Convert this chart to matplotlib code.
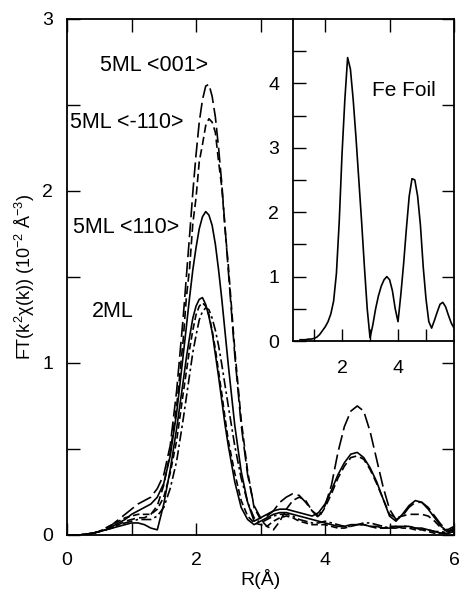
"""
FT magnitude of k^2-weighted EXAFS for Fe films, with Fe foil reference inset.
"""
import matplotlib
matplotlib.use('Agg')
import matplotlib.pyplot as plt

plt.rcParams['font.family'] = ['Liberation Sans', 'DejaVu Sans']
plt.rcParams['mathtext.fontset'] = 'custom'
plt.rcParams['mathtext.rm'] = 'Liberation Sans'
plt.rcParams['mathtext.it'] = 'Liberation Sans'

# sample positions R (Angstrom); finer around the first-shell peak
R = [0.0, 0.1, 0.2, 0.3, 0.4, 0.5, 0.6, 0.7, 0.8, 0.9,
     1.0, 1.1, 1.2, 1.3, 1.4, 1.5, 1.6, 1.7,
     1.8, 1.85, 1.9, 1.95, 2.0, 2.05, 2.1, 2.15, 2.2, 2.25,
     2.3, 2.35, 2.4, 2.45, 2.5, 2.6, 2.7, 2.8, 2.9,
     3.0, 3.1, 3.2, 3.3, 3.4, 3.5, 3.6, 3.7, 3.8, 3.9,
     4.0, 4.1, 4.2, 4.3, 4.4, 4.5, 4.6, 4.7, 4.8, 4.9,
     5.0, 5.1, 5.2, 5.3, 5.4, 5.5, 5.6, 5.7, 5.8, 5.9,
     6.0]

ml5_001 = [0, 0, 0, 0.005, 0.01, 0.02, 0.04, 0.06, 0.09, 0.12,
           0.15, 0.18, 0.20, 0.22, 0.27, 0.35, 0.52, 0.84,
           1.26, 1.50, 1.74, 1.99, 2.21, 2.40, 2.53, 2.61, 2.62, 2.55,
           2.43, 2.25, 2.04, 1.79, 1.54, 1.05, 0.64, 0.35, 0.17,
           0.10, 0.11, 0.14, 0.19, 0.22, 0.24, 0.23, 0.19, 0.14, 0.11,
           0.17, 0.29, 0.48, 0.63, 0.72, 0.75, 0.72, 0.60, 0.44, 0.28,
           0.15, 0.09, 0.11, 0.16, 0.19, 0.19, 0.16, 0.11, 0.06, 0.03,
           0.05]

ml5_m110 = [0, 0, 0, 0.005, 0.01, 0.02, 0.03, 0.05, 0.06, 0.08,
            0.09, 0.10, 0.10, 0.12, 0.17, 0.29, 0.48, 0.75,
            1.13, 1.38, 1.55, 1.81, 1.96, 2.17, 2.27, 2.38, 2.42, 2.40,
            2.34, 2.17, 2.02, 1.78, 1.57, 1.08, 0.67, 0.37, 0.16,
            0.09, 0.05, 0.03, 0.08, 0.15, 0.20, 0.22, 0.20, 0.14, 0.10,
            0.16, 0.24, 0.33, 0.40, 0.45, 0.46, 0.44, 0.38, 0.30, 0.21,
            0.12, 0.10, 0.11, 0.12, 0.12, 0.12, 0.11, 0.08, 0.04, 0.02,
            0.03]

ml5_110 = [0, 0, 0, 0.005, 0.01, 0.02, 0.03, 0.05, 0.07, 0.09,
           0.12, 0.14, 0.16, 0.18, 0.22, 0.30, 0.46, 0.71,
           1.04, 1.21, 1.38, 1.54, 1.67, 1.78, 1.85, 1.88, 1.86, 1.80,
           1.69, 1.54, 1.37, 1.18, 0.99, 0.64, 0.37, 0.19, 0.08,
           0.10, 0.12, 0.14, 0.15, 0.15, 0.14, 0.13, 0.12, 0.11, 0.13,
           0.18, 0.26, 0.35, 0.42, 0.47, 0.48, 0.45, 0.39, 0.31, 0.21,
           0.11, 0.08, 0.12, 0.17, 0.20, 0.19, 0.15, 0.10, 0.05, 0.02,
           0.04]

ml2_a = [0, 0, 0, 0.005, 0.01, 0.02, 0.03, 0.04, 0.05, 0.06,
         0.07, 0.07, 0.06, 0.04, 0.03, 0.18, 0.38, 0.62,
         0.89, 1.03, 1.15, 1.26, 1.33, 1.37, 1.38, 1.34, 1.27, 1.18,
         1.05, 0.92, 0.78, 0.64, 0.52, 0.31, 0.16, 0.09, 0.06,
         0.08, 0.10, 0.12, 0.13, 0.13, 0.12, 0.11, 0.10, 0.09, 0.08,
         0.07, 0.06, 0.05, 0.05, 0.06, 0.06, 0.06, 0.05, 0.05, 0.04,
         0.04, 0.05, 0.05, 0.05, 0.04, 0.04, 0.03, 0.02, 0.01, 0.01,
         0.02]

ml2_b = [0, 0, 0, 0.005, 0.01, 0.02, 0.04, 0.06, 0.08, 0.10,
         0.11, 0.12, 0.12, 0.12, 0.15, 0.22, 0.36, 0.55,
         0.82, 0.95, 1.08, 1.19, 1.28, 1.33, 1.35, 1.33, 1.28, 1.19,
         1.08, 0.95, 0.82, 0.68, 0.55, 0.36, 0.20, 0.11, 0.07,
         0.06, 0.05, 0.08, 0.10, 0.11, 0.10, 0.08, 0.07, 0.06, 0.06,
         0.06, 0.05, 0.04, 0.04, 0.05, 0.06, 0.06, 0.05, 0.04, 0.04,
         0.05, 0.05, 0.04, 0.04, 0.03, 0.03, 0.02, 0.01, 0.01, 0.02,
         0.03]

ml2_c = [0, 0, 0, 0.005, 0.01, 0.02, 0.03, 0.04, 0.06, 0.07,
         0.08, 0.09, 0.09, 0.09, 0.11, 0.16, 0.27, 0.43,
         0.67, 0.80, 0.93, 1.06, 1.16, 1.25, 1.30, 1.32, 1.31, 1.26,
         1.19, 1.10, 0.99, 0.87, 0.75, 0.52, 0.33, 0.19, 0.10,
         0.07, 0.09, 0.11, 0.12, 0.12, 0.11, 0.09, 0.08, 0.07, 0.07,
         0.08, 0.07, 0.06, 0.05, 0.05, 0.06, 0.07, 0.07, 0.06, 0.05,
         0.04, 0.04, 0.05, 0.05, 0.04, 0.03, 0.03, 0.02, 0.02, 0.01,
         0.02]

# Fe foil reference (inset)
R_foil = [0.5, 0.6, 0.7, 0.8, 0.9,
          1.0, 1.1, 1.2, 1.3, 1.4, 1.5, 1.6, 1.7, 1.8, 1.9,
          2.0, 2.1, 2.2, 2.3, 2.4, 2.5, 2.6, 2.7, 2.8, 2.9,
          3.0, 3.1, 3.2, 3.3, 3.4, 3.5, 3.6, 3.7, 3.8, 3.9,
          4.0, 4.1, 4.2, 4.3, 4.4, 4.5, 4.6, 4.7, 4.8, 4.9,
          5.0, 5.1, 5.2, 5.3, 5.4, 5.5, 5.6, 5.7, 5.8, 5.9,
          6.0]
fe_foil = [0.02, 0.02, 0.02, 0.03, 0.03,
           0.04, 0.06, 0.10, 0.16, 0.22, 0.30, 0.42, 0.62, 1.05, 1.85,
           2.90, 3.74, 4.40, 4.22, 3.74, 3.15, 2.50, 1.85, 1.15, 0.50,
           0.05, 0.25, 0.50, 0.70, 0.85, 0.95, 1.00, 0.95, 0.78, 0.50,
           0.30, 0.72, 1.20, 1.75, 2.25, 2.52, 2.50, 2.25, 1.80, 1.15,
           0.65, 0.30, 0.20, 0.32, 0.45, 0.57, 0.60, 0.53, 0.40, 0.28,
           0.20]

labels = ['5ML <001>', '5ML <-110>', '5ML <110>', '2ML']
label_pos = [(0.51, 2.73), (0.05, 2.40), (0.09, 1.79), (0.39, 1.30)]


def style_ticks(ax):
    ax.tick_params(which='both', direction='in', length=9, width=1.0,
                   labelsize=14)
    for sp in ax.spines.values():
        sp.set_linewidth(1.3)


fig = plt.figure(figsize=(4.6, 5.91), dpi=100)
ax = fig.add_axes([0.1457, 0.0948, 0.8413, 0.8731])

lw = 1.2
ax.plot(R, ml5_001, color='black', lw=lw, linestyle=(0, (9, 3)))
ax.plot(R, ml5_m110, color='black', lw=lw, linestyle=(0, (5, 2.5)))
ax.plot(R, ml5_110, color='black', lw=lw)
ax.plot(R, ml2_a, color='black', lw=lw)
ax.plot(R, ml2_b, color='black', lw=lw, linestyle=(0, (4, 2)))
ax.plot(R, ml2_c, color='black', lw=lw, linestyle=(0, (6, 2, 1.5, 2)))

ax.set_xlim(0, 6)
ax.set_ylim(0, 3)
ax.set_xticks([0, 2, 4, 6])
ax.set_xticks([1, 3, 5], minor=True)
ax.set_yticks([0, 1, 2, 3])
ax.set_yticks([0.5, 1.5, 2.5], minor=True)
style_ticks(ax)
ax.tick_params(which='both', top=True, right=True)
ax.tick_params(axis='x', pad=12)
ax.tick_params(axis='y', pad=10)
ax.set_xlabel('R(Å)', fontsize=14, labelpad=0)
ax.set_ylabel('FT(k$^{2}$χ(k)) (10$^{-2}$ Å$^{-3}$)', fontsize=13, labelpad=4)

for txt, (x, y) in zip(labels, label_pos):
    ax.text(x, y, txt, fontsize=15.5, ha='left', va='center')

# inset: Fe foil
axin = fig.add_axes([0.637, 0.423, 0.350, 0.545])
axin.patch.set_alpha(0)
axin.plot(R_foil, fe_foil, color='black', lw=1.2)
axin.set_xlim(0.25, 6.0)
axin.set_ylim(0, 5)
axin.set_xticks([2, 4])
axin.set_xticks([1, 3, 5], minor=True)
axin.set_yticks([0, 1, 2, 3, 4])
axin.set_yticks([0.5, 1.5, 2.5, 3.5, 4.5], minor=True)
style_ticks(axin)
axin.tick_params(axis='x', pad=14)
axin.tick_params(axis='y', pad=10)
axin.spines['top'].set_visible(False)
axin.spines['right'].set_visible(False)
axin.text(3.07, 3.89, 'Fe Foil', fontsize=15, ha='left', va='center')

fig.savefig('out.png', dpi=100)
